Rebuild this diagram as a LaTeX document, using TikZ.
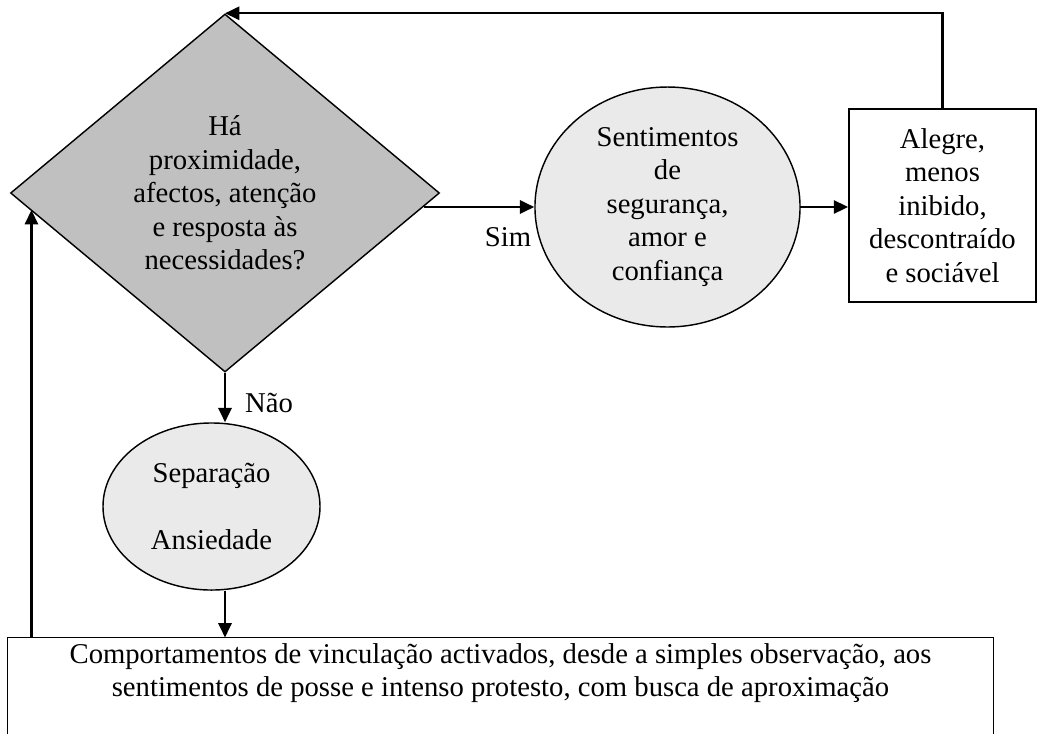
\documentclass[tikz,border=0pt]{standalone}
\usepackage{fontspec}
\setmainfont{Liberation Serif}
\usetikzlibrary{shapes.geometric, arrows.meta}

\newcommand{\unitpx}{0.4184pt}
\definecolor{darkfill}{RGB}{192,192,192}
\definecolor{lightfill}{RGB}{234,234,234}

\begin{document}
\begin{tikzpicture}[x = \unitpx, y = -\unitpx,
  every node/.style = {font = \fontsize{12}{14}\selectfont, align = center, inner sep = 0pt},
  question/.style = {diamond, draw, line width = 0.6pt, fill = darkfill, minimum width = 179.5pt, minimum height = 149.8pt},
  feeling/.style = {ellipse, draw, line width = 0.6pt, fill = lightfill},
  outcome/.style = {rectangle, draw, line width = 0.6pt, fill = white},
  flow/.style = {line width = 1pt, -{Triangle[length = 6pt, width = 5.5pt]}}]

\useasboundingbox (0,0) rectangle (1038,733);

\node[question] (n1) at (225,193) {Há\\proximidade,\\afectos, atenção\\e resposta às\\necessidades?};
\node[feeling, minimum width = 110.9pt, minimum height = 100.4pt] (n2) at (667.5,207) {Sentimentos\\de\\segurança,\\amor e\\confiança};
\node[outcome, minimum width = 78.4pt, minimum height = 80.8pt] (n3) at (942.5,205.5) {Alegre,\\menos\\inibido,\\descontraído\\e sociável};
\node[feeling, minimum width = 90.8pt, minimum height = 69.9pt] (n4) at (211.5,506.5) {Separação\\[14pt]Ansiedade};
\node[minimum width = 412.1pt, minimum height = 29.3pt] (n5) at (500.5,673) {Comportamentos de vinculação activados, desde a simples observação, aos\\sentimentos de posse e intenso protesto, com busca de aproximação};
\draw [line width = 0.6pt] (n5.north west) rectangle ([yshift = -20pt]n5.south east);

\coordinate (c1) at ([xshift = 10pt]n5.north west);

\node (sim) at (508,237) {Sim};
\node (nao) at (269,403) {Não};

\draw [flow] (n1.-4 |- n2.west) -- (n2.west);
\draw [flow] (n2.east) -- (n2.east -| n3.west);
\draw [flow] (n3.north) |- (n1.north);
\draw [flow] (n1.south) -- (n1.south |- n4.north);
\draw [flow] (n1.south |- n4.south) -- (n1.south |- n5.north);
\draw [flow] (c1) -- (c1 |- n1.185);
\end{tikzpicture}
\end{document}
